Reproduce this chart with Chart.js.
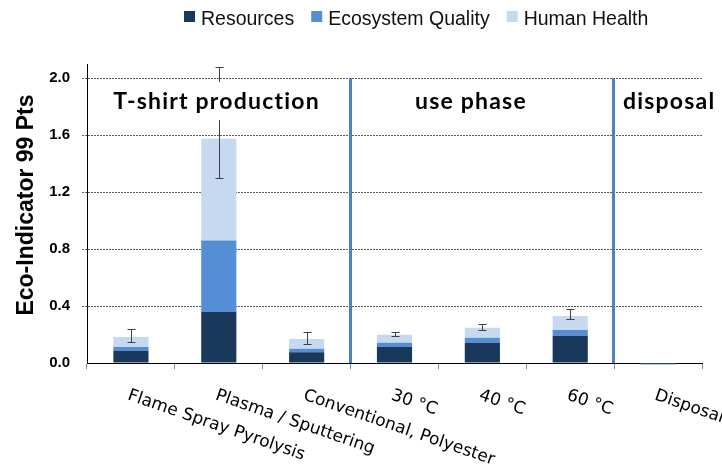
<!DOCTYPE html>
<html>
<head>
<meta charset="utf-8">
<script src="https://cdn.jsdelivr.net/npm/chart.js@4.4.1/dist/chart.umd.min.js"></script>
<style>
  html, body { margin: 0; padding: 0; background: #ffffff; }
  #wrap { width: 722px; height: 470px; }
</style>
</head>
<body>
<div id="wrap"><canvas id="chart" width="722" height="470"></canvas></div>
<script>
// Life-cycle stages of a T-shirt and their Eco-Indicator 99 scores
const categories = ['Flame Spray Pyrolysis', 'Plasma / Sputtering', 'Conventional, Polyester',
                    '30 °C', '40 °C', '60 °C', 'Disposal'];
const seriesNames = ['Resources', 'Ecosystem Quality', 'Human Health'];

// damage category contributions (Pts), stacked
const resources = [0.085, 0.36, 0.075, 0.112, 0.142, 0.192, 0.0];
const ecosystemQuality = [0.028, 0.50, 0.025, 0.030, 0.036, 0.040, -0.01];
const humanHealth = [0.070, 0.715, 0.068, 0.057, 0.070, 0.098, 0.0];

// uncertainty range of the total score
const errorLow = [0.147, 1.30, 0.133, 0.187, 0.234, 0.309, null];
const errorHigh = [0.241, 2.08, 0.215, 0.215, 0.274, 0.379, null];

// value axis
const yTickValues = [0.0, 0.4, 0.8, 1.2, 1.6, 2.0];
const yTickLabels = ['0.0', '0.4', '0.8', '1.2', '1.6', '2.0'];

// life-cycle phases and where they are separated
const phaseNames = ['T-shirt production', 'use phase', 'disposal'];
const phaseBreaks = [2.5, 5.5];

const seriesColors = ['#1a375c', '#558ed5', '#c6d9f1'];
const AXIS_FONT = '"Liberation Sans", Arial, sans-serif';

const seriesValues = [resources, ecosystemQuality, humanHealth];

// phase separators behind the bars
const phaseLines = {
  id: 'phaseLines',
  beforeDatasetsDraw(chart) {
    const { ctx, scales: { x, y } } = chart;
    ctx.save();
    ctx.strokeStyle = '#4f81bd';
    ctx.lineWidth = 3;
    phaseBreaks.forEach(b => {
      const px = Math.round((x.getPixelForValue(Math.floor(b)) + x.getPixelForValue(Math.ceil(b))) / 2) - 0.5;
      ctx.beginPath();
      ctx.moveTo(px, y.getPixelForValue(2.0));
      ctx.lineTo(px, y.getPixelForValue(0));
      ctx.stroke();
    });
    ctx.restore();
  }
};

// error bars, phase titles, category labels, legend and axis title
const overlay = {
  id: 'overlay',
  afterDatasetsDraw(chart) {
    const { ctx, scales: { x, y } } = chart;
    ctx.save();

    // error bars
    ctx.strokeStyle = '#404040';
    ctx.lineWidth = 1;
    categories.forEach((c, i) => {
      if (errorLow[i] == null) return;
      const px = Math.round(x.getPixelForValue(i)) + 0.5;
      const y1 = Math.round(y.getPixelForValue(errorLow[i])) + 0.5;
      const y2 = Math.round(y.getPixelForValue(errorHigh[i])) + 0.5;
      ctx.beginPath();
      ctx.moveTo(px, y1); ctx.lineTo(px, y2);
      ctx.moveTo(px - 4, y1); ctx.lineTo(px + 4, y1);
      ctx.moveTo(px - 4, y2); ctx.lineTo(px + 4, y2);
      ctx.stroke();
    });

    // phase titles on a white box
    const phaseAnchors = [{ v: 0.975, align: 'center' }, { v: 3.87, align: 'center' }, { v: 5.6, align: 'left' }];
    ctx.font = 'bold 23px Lato, "Open Sans", sans-serif';
    ctx.letterSpacing = '1.2px';
    ctx.textBaseline = 'middle';
    phaseNames.forEach((name, i) => {
      const a = phaseAnchors[i];
      const px = x.getPixelForValue(a.v);
      const w = ctx.measureText(name).width;
      const left = a.align === 'center' ? px - w / 2 : px;
      ctx.fillStyle = '#ffffff';
      ctx.fillRect(left - 6, 82, w + 12, 38);
      ctx.fillStyle = '#000000';
      ctx.textAlign = 'left';
      ctx.fillText(name, left, 102);
    });
    ctx.letterSpacing = '0px';

    // category labels, slanted downward
    ctx.font = '17px "DejaVu Sans", Verdana, sans-serif';
    ctx.fillStyle = '#000000';
    ctx.textAlign = 'left';
    ctx.textBaseline = 'top';
    categories.forEach((c, i) => {
      const px = x.getPixelForValue(i);
      ctx.save();
      ctx.translate(px, 387);
      ctx.rotate(19 * Math.PI / 180);
      ctx.fillText(c, 0, 0);
      ctx.restore();
    });

    // legend
    ctx.font = '19.5px ' + AXIS_FONT;
    ctx.textBaseline = 'alphabetic';
    let lx = 184;
    seriesNames.forEach((name, i) => {
      ctx.fillStyle = seriesColors[i];
      ctx.fillRect(lx, 11, 11, 11);
      ctx.fillStyle = '#111111';
      ctx.fillText(name, lx + 17, 25);
      lx += 17 + ctx.measureText(name).width + 17;
    });

    // value axis title
    ctx.font = 'bold 23px ' + AXIS_FONT;
    ctx.textAlign = 'center';
    ctx.textBaseline = 'middle';
    ctx.fillStyle = '#000000';
    ctx.translate(27, 205);
    ctx.rotate(-Math.PI / 2);
    ctx.fillText('Eco-Indicator 99 Pts', 0, 0);

    ctx.restore();
  }
};

new Chart(document.getElementById('chart'), {
  type: 'bar',
  data: {
    labels: categories,
    datasets: seriesNames.map((name, i) => ({
      label: name,
      data: seriesValues[i],
      backgroundColor: seriesColors[i],
      borderWidth: 0,
      barPercentage: 0.8,
      categoryPercentage: 0.5,
      clip: 6
    }))
  },
  options: {
    responsive: false,
    animation: false,
    devicePixelRatio: 1,
    layout: { padding: { top: 64, right: 20, left: 0, bottom: 0 } },
    plugins: {
      legend: { display: false },
      title: { display: false },
      tooltip: { enabled: false }
    },
    scales: {
      x: {
        stacked: true,
        offset: true,
        ticks: { display: false },
        grid: { display: true, drawOnChartArea: false, offset: true, tickLength: 6, color: '#888888' },
        border: { display: true, color: '#000000', width: 1 },
        afterFit(scale) { scale.height = 107; }
      },
      y: {
        stacked: true,
        min: 0,
        max: 2.1,
        afterBuildTicks(scale) { scale.ticks = yTickValues.map(v => ({ value: v })); },
        ticks: {
          callback: (v, i) => yTickLabels[i],
          color: '#000000',
          padding: 12,
          font: { family: AXIS_FONT, size: 15, weight: 'bold' }
        },
        grid: {
          color: c => (c.tick && c.tick.value === 0) ? 'rgba(0,0,0,0)' : '#5a5a5a',
          tickColor: c => (c.tick && c.tick.value === 0) ? 'rgba(0,0,0,0)' : '#5a5a5a',
          tickLength: 5,
          tickBorderDash: [2, 1]
        },
        border: { display: true, color: '#000000', width: 1, dash: [2, 1] },
        afterFit(scale) { scale.width = 87; }
      }
    }
  },
  plugins: [phaseLines, overlay]
});
</script>
</body>
</html>
